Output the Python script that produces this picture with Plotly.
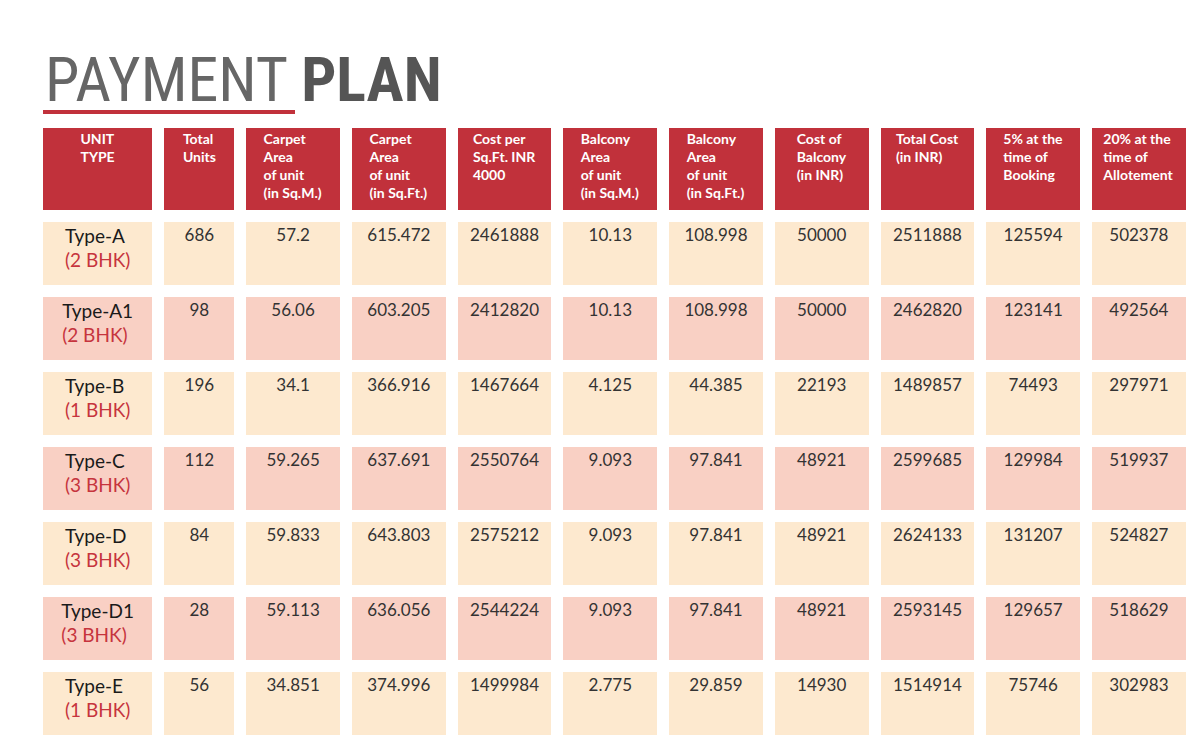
import plotly.graph_objects as go

headers = ["UNIT<br>TYPE", "Total<br>Units", "Carpet<br>Area<br>of unit<br>(in Sq.M.)", "Carpet<br>Area<br>of unit<br>(in Sq.Ft.)",
           "Cost per<br>Sq.Ft. INR<br>4000", "Balcony<br>Area<br>of unit<br>(in Sq.M.)", "Balcony<br>Area<br>of unit<br>(in Sq.Ft.)",
           "Cost of<br>Balcony<br>(in INR)", "Total Cost<br>(in INR)", "5% at the<br>time of<br>Booking", "20% at the<br>time of<br>Allotement"]
types = ["Type-A", "Type-A1", "Type-B", "Type-C", "Type-D", "Type-D1", "Type-E"]
bhk = ["2 BHK", "2 BHK", "1 BHK", "3 BHK", "3 BHK", "3 BHK", "1 BHK"]
total_units = ["686", "98", "196", "112", "84", "28", "56"]
carpet_sqm = ["57.2", "56.06", "34.1", "59.265", "59.833", "59.113", "34.851"]
carpet_sqft = ["615.472", "603.205", "366.916", "637.691", "643.803", "636.056", "374.996"]
cost_sqft = ["2461888", "2412820", "1467664", "2550764", "2575212", "2544224", "1499984"]
balc_sqm = ["10.13", "10.13", "4.125", "9.093", "9.093", "9.093", "2.775"]
balc_sqft = ["108.998", "108.998", "44.385", "97.841", "97.841", "97.841", "29.859"]
balc_cost = ["50000", "50000", "22193", "48921", "48921", "48921", "14930"]
total_cost = ["2511888", "2462820", "1489857", "2599685", "2624133", "2593145", "1514914"]
booking5 = ["125594", "123141", "74493", "129984", "131207", "129657", "75746"]
allot20 = ["502378", "492564", "297971", "519937", "524827", "518629", "302983"]

def hdr(h):
    lines = h.split("<br>")
    pad = 4 - len(lines) if h.startswith(("UNIT", "Total<br>U")) else 4 - len(lines)
    body = "<br>".join(f"<b>{l}</b>" for l in lines)
    return body

def num(v):
    return "<br>" + v

first_col = [f"<span style='color:#1a1a1a'>{t}</span><br><span style='color:#c6343d'>({b})</span>"
             for t, b in zip(types, bhk)]
num_cols = [total_units, carpet_sqm, carpet_sqft, cost_sqft, balc_sqm, balc_sqft, balc_cost, total_cost, booking5, allot20]
row_colors = ["#fde9cf" if i % 2 == 0 else "#f9d0c4" for i in range(len(types))]

fig = go.Figure()
# fills + numeric text
fig.add_trace(go.Table(
    domain=dict(x=[0.024, 0.987], y=[0, 0.838 + 0.01]),
    columnwidth=[122, 82, 106, 106, 106, 106, 106, 106, 106, 106, 106],
    header=dict(values=[hdr(h) for h in headers], fill_color="#c1313b",
                line=dict(color="white", width=12), align="center", height=94,
                font=dict(color="white", size=14, family="Lato")),
    cells=dict(values=[first_col] + [[num(v) for v in c] for c in num_cols],
               fill_color=[row_colors] * 11, line=dict(color="white", width=12),
               align="center", height=75,
               font=dict(color=["#1a1a1a"] + ["#333333"] * 10, size=[19] + [17] * 10, family="Lato")),
))
fig.add_annotation(x=35 / 1200, y=1 - 72 / 748, xref="paper", yref="paper", xanchor="left", yanchor="middle",
                   text="<span style='color:#666666'>PAYMENT</span> <b style='color:#555555'>PLAN</b>",
                   showarrow=False, font=dict(size=62, family="Liberation Sans Narrow, Roboto Condensed, DejaVu Sans Condensed"))
fig.add_shape(type="line", xref="paper", yref="paper", x0=35 / 1200, x1=287 / 1200, y0=1 - 104 / 748, y1=1 - 104 / 748,
              line=dict(color="#c1313b", width=4))
fig.add_annotation(x=35 / 1200, y=-8 / 748, xref="paper", yref="paper", xanchor="left", yanchor="middle",
                   text="<b>Rest of 75% pay in six installment @12.5% in interval of every six month for three years</b>",
                   showarrow=False, font=dict(size=16, family="Lato", color="#222222"))
fig.update_layout(width=1200, height=748, margin=dict(l=0, r=0, t=0, b=0), paper_bgcolor="white", plot_bgcolor="white")
fig.write_html("out.html")
